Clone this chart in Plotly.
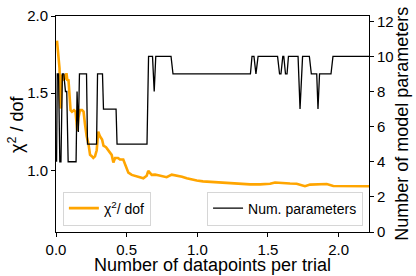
import plotly.graph_objects as go

# chi^2 / dof series (left axis)
chi_x = [0.007, 0.013, 0.019, 0.025, 0.030, 0.034, 0.039, 0.046, 0.053, 0.060,
         0.067, 0.074, 0.081, 0.088, 0.096, 0.103, 0.113, 0.127, 0.138, 0.145,
         0.151, 0.159, 0.170, 0.184, 0.195, 0.205, 0.217, 0.230, 0.241, 0.255,
         0.264, 0.276, 0.288, 0.299, 0.311, 0.326, 0.336, 0.354, 0.370, 0.382,
         0.394, 0.406, 0.418, 0.439, 0.453, 0.476, 0.488, 0.500, 0.512, 0.536,
         0.559, 0.594, 0.618, 0.642, 0.653, 0.677, 0.701, 0.724, 0.750, 0.783,
         0.819, 0.842, 0.866, 0.892, 0.925, 0.955, 0.996, 1.040, 1.090, 1.149,
         1.208, 1.253, 1.302, 1.373, 1.444, 1.479, 1.515, 1.550, 1.597, 1.656,
         1.703, 1.734, 1.762, 1.798, 1.854, 1.916, 1.962, 2.010, 2.057, 2.123,
         2.215]
chi_y = [1.84, 1.78, 1.69, 1.66, 1.45, 1.40, 1.62, 1.58, 1.62, 1.60,
         1.59, 1.63, 1.58, 1.59, 1.45, 1.39, 1.38, 1.39, 1.38, 1.30,
         1.255, 1.34, 1.39, 1.39, 1.38, 1.30, 1.22, 1.17, 1.10, 1.09,
         1.08, 1.09, 1.13, 1.25, 1.22, 1.20, 1.16, 1.15, 1.13, 1.12,
         1.10, 1.05, 1.08, 1.08, 1.07, 1.07, 1.04, 1.006, 0.985, 0.97,
         0.965, 0.955, 0.948, 0.965, 0.996, 0.97, 0.972, 0.968, 0.962, 0.955,
         0.972, 0.968, 0.965, 0.958, 0.948, 0.94, 0.934, 0.928, 0.925, 0.921,
         0.917, 0.915, 0.913, 0.909, 0.909, 0.911, 0.913, 0.921, 0.917, 0.914,
         0.913, 0.905, 0.897, 0.907, 0.910, 0.911, 0.898, 0.898, 0.897, 0.897,
         0.897]

# number of model parameters (right axis)
par_x = [0.004, 0.009, 0.018, 0.027, 0.035, 0.045, 0.055, 0.067, 0.076, 0.086,
         0.142, 0.149, 0.158, 0.166, 0.216, 0.223, 0.287, 0.294, 0.329, 0.336,
         0.425, 0.432, 0.644, 0.655, 0.683, 0.695, 0.706, 0.814, 0.828, 1.376,
         1.387, 1.401, 1.415, 1.430, 1.568, 1.582, 1.592, 1.605, 1.612, 1.624,
         1.635, 1.645, 1.713, 1.727, 1.745, 1.793, 1.807, 1.845, 1.854, 1.865,
         1.946, 1.960, 2.215]
par_y = [4, 9, 9, 4, 4, 9, 9, 8, 8, 4,
         4, 8, 5.7, 9, 9, 5, 5, 9, 9, 7,
         7, 5, 5, 10, 10, 8, 10, 10, 9, 9,
         10, 10, 9, 10, 10, 9, 9, 10, 10, 9,
         9, 10, 10, 7, 10, 10, 9, 9, 7, 9,
         9, 10, 10]

x_ticks = [0.0, 0.5, 1.0, 1.5, 2.0]
y1_ticks = [1.0, 1.5, 2.0]
y2_ticks = [0, 2, 4, 6, 8, 10, 12]

x_title = "Number of datapoints per trial"
y1_title = "χ<sup>2</sup> / dof"
y2_title = "Number of model parameters"

FONT = "Liberation Sans, Arial, Helvetica, sans-serif"

fig = go.Figure()
fig.add_trace(go.Scatter(x=chi_x, y=chi_y, mode="lines", name="χ<sup>2</sup>/ dof",
                         line=dict(color="#FFA500", width=2.6), legend="legend",
                         showlegend=True))
fig.add_trace(go.Scatter(x=par_x, y=par_y, mode="lines", name="Num. parameters",
                         line=dict(color="black", width=1.3), yaxis="y2", legend="legend2",
                         showlegend=True))

axis_common = dict(showgrid=False, zeroline=False, ticks="outside", ticklen=4,
                   tickwidth=1, tickcolor="black", linecolor="black", linewidth=1,
                   showline=True, tickfont=dict(family=FONT, size=15, color="black"))

fig.update_layout(
    width=416, height=276,
    margin=dict(l=56, r=47, t=7, b=44),
    paper_bgcolor="white", plot_bgcolor="white",
    font=dict(family=FONT, color="black"),
    showlegend=True,
    xaxis=dict(range=[0, 2.215], tickvals=x_ticks, tickformat=".1f", mirror=True,
               **axis_common),
    yaxis=dict(range=[0.6, 2.0], tickvals=y1_ticks, tickformat=".1f",
               **axis_common),
    yaxis2=dict(range=[0, 12.3], tickvals=y2_ticks, overlaying="y", side="right",
                **axis_common),
    legend=dict(x=0.022, y=0.03, xanchor="left", yanchor="bottom",
                bgcolor="rgba(255,255,255,0.85)", bordercolor="#d6d6d6", borderwidth=1,
                font=dict(size=14), visible=True),
    legend2=dict(x=0.981, y=0.03, xanchor="right", yanchor="bottom",
                 bgcolor="rgba(255,255,255,0.85)", bordercolor="#d6d6d6", borderwidth=1,
                 font=dict(size=14), visible=True),
    annotations=[
        dict(text=x_title, xref="paper", yref="paper", x=0.5, y=-0.155,
             xanchor="center", yanchor="middle", showarrow=False, font=dict(size=18)),
        dict(text=y1_title, xref="paper", yref="paper", x=-0.128, y=0.5, textangle=-90,
             xanchor="center", yanchor="middle", showarrow=False, font=dict(size=18)),
        dict(text=y2_title, xref="paper", yref="paper", x=1.105, y=0.5, textangle=-90,
             xanchor="center", yanchor="middle", showarrow=False, font=dict(size=18)),
    ],
)

fig.write_html("out.html", config={"displayModeBar": False},
               post_script="document.body.style.margin='0px';document.body.style.overflow='hidden';")
